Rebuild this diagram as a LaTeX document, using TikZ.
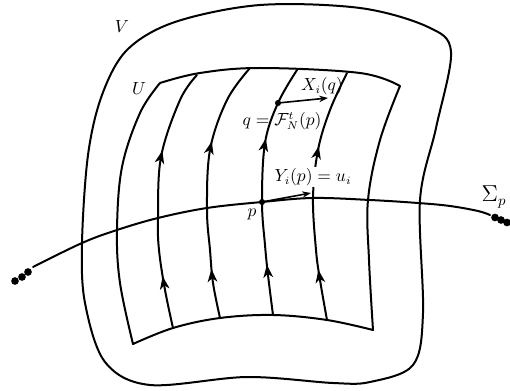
\documentclass[tikz,border=0pt]{standalone}
\usetikzlibrary{arrows.meta,decorations.markings}
\tikzset{
  curve/.style={line width=1.25pt, line cap=round, line join=round},
  flow/.style 2 args={curve, postaction={decorate}, decoration={markings,
      mark=at position #1 with {\arrow{Stealth[length=8pt,width=6pt,inset=2.3pt]}},
      mark=at position #2 with {\arrow{Stealth[length=8pt,width=6pt,inset=2.3pt]}}}},
  vec/.style={line width=1pt, -{Stealth[length=5.5pt,width=4pt]}},
  lbl/.style={inner sep=1pt, font=\fontsize{10.6}{12}\selectfont},
  pdot/.style={circle, fill, inner sep=0pt, minimum size=3.8pt},
  edot/.style={circle, fill, inner sep=0pt, minimum size=4.8pt},
}
\begin{document}
\begin{tikzpicture}[x=0.625pt, y=-0.625pt]
\useasboundingbox (0,0) rectangle (510,391);
% outer region V
\draw[curve] plot[smooth cycle, tension=0.55] coordinates {
  (260,5) (360,8) (428,27) (451,52) (436,128) (420,200) (423,313) (413,365)
  (370,382) (333,383) (247,377) (150,385) (105,362) (85,303) (82,243)
  (88,155) (102,95) (127,50) (175,22)};
% region U
\draw[curve] plot[smooth, tension=0.6] coordinates {(160,83) (200,73) (260,68) (360,73) (400,86)}
  -- plot[smooth, tension=0.6] coordinates {(400,86) (380,140) (368,200) (369,260) (373,330)}
  -- plot[smooth, tension=0.6] coordinates {(373,330) (327,320) (273,315) (220,318) (173,328) (133,344)}
  -- plot[smooth, tension=0.6] coordinates {(133,344) (120,283) (117,230) (122,167) (140,113) (160,83)};
% flow lines
\draw[flow={0.20}{0.68}] plot[smooth, tension=0.6] coordinates {(173,328) (165,290) (159,250) (158,218) (161,157) (180,100) (197,75)};
\draw[flow={0.19}{0.68}] plot[smooth, tension=0.6] coordinates {(220,318) (213,283) (210,250) (207,210) (210,150) (227,100) (250,68)};
\draw[flow={0.20}{0.70}] plot[smooth, tension=0.6] coordinates {(273,315) (268,275) (265,245) (262,202) (265,143) (278,103) (297,70)};
\draw[flow={0.20}{0.69}] plot[smooth, tension=0.6] coordinates {(327,320) (320,280) (316,250) (313,198) (318,150) (330,110) (347,73)};
% transversal Sigma_p
\draw[curve] plot[smooth, tension=0.6] coordinates {(33,267) (82,243) (117,230) (158,218) (207,208) (262,202) (313,198) (370,200) (418,203) (450,206) (478,211) (490,215)};
\node[edot] (l1) at (15,281) {};
\node[edot] (l2) at (22,277) {};
\node[edot] (l3) at (28,272) {};
\node[edot] (r1) at (495,217.5) {};
\node[edot] (r2) at (501,220) {};
\node[edot] (r3) at (507,222.5) {};
% points and vectors
\node[pdot] (q) at (278,103) {};
\node[pdot] (p) at (262,202) {};
\coordinate (Xq) at (328,98);
\coordinate (Yp) at (311,193);
\draw[vec] (q.center) -- (Xq);
\draw[vec] (p.center) -- (Yp);
% labels
\node[lbl] (Vl) at (122,27) {$V$};
\node[lbl] (Ul) at (139,89) {$U$};
\node[lbl] (Xl) at (322,86) {$X_i(q)$};
\node[lbl] (ql) at (282,121) {$q=\mathcal{F}^t_N(p)$};
\node[lbl, fill=white] (Yl) at (313,177) {$Y_i(p)=u_i$};
\node[lbl] (pl) at (252,214) {$p$};
\node[lbl, font=\fontsize{13.5}{15}\selectfont] (Sl) at (494,197) {$\Sigma_p$};
\end{tikzpicture}
\end{document}
